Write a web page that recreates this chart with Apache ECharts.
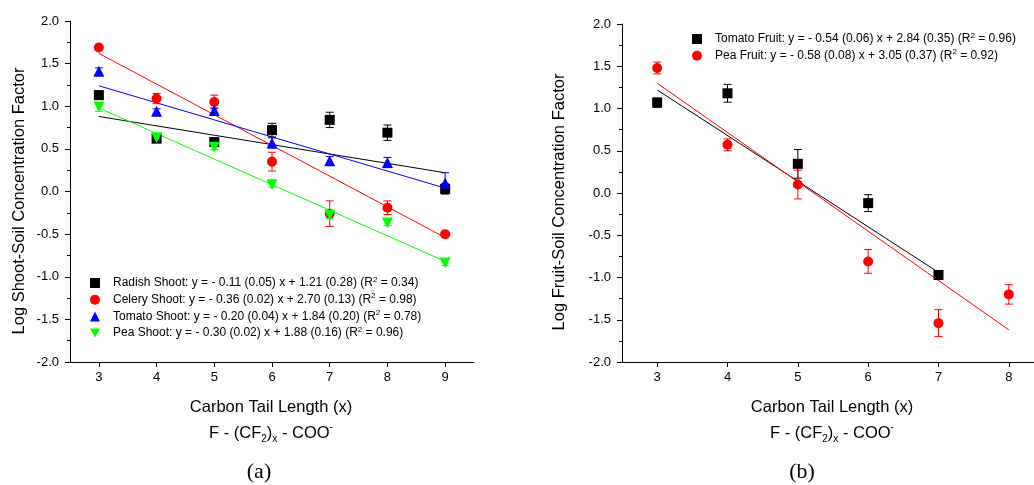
<!DOCTYPE html>
<html>
<head>
<meta charset="utf-8">
<script src="https://cdn.jsdelivr.net/npm/echarts@6/dist/echarts.min.js"></script>
<style>html,body{margin:0;padding:0;background:#fff}#c{width:1034px;height:485px}</style>
</head>
<body>
<div id="c"></div>
<script>
// ---------- data: panel (a) shoots ----------
const xShoot = [3, 4, 5, 6, 7, 8, 9];
const radish = [1.13, 0.62, 0.58, 0.72, 0.84, 0.69, 0.03];
const radishErr = [0.05, 0.03, 0.03, 0.08, 0.09, 0.09, 0.06];
const celery = [1.69, 1.09, 1.05, 0.35, -0.26, -0.19, -0.50];
const celeryErr = [0.03, 0.06, 0.08, 0.11, 0.15, 0.08, 0.02];
const tomatoS = [1.41, 0.94, 0.95, 0.57, 0.36, 0.34, 0.10];
const tomatoSErr = [0.04, 0.03, 0.03, 0.06, 0.05, 0.06, 0.12];
const peaS = [0.99, 0.63, 0.52, 0.08, -0.28, -0.37, -0.84];
const peaSErr = [0.05, 0.03, 0.03, 0.03, 0.04, 0.03, 0.03];
const fitRadish = [[3, 0.88], [9, 0.22]];
const fitCelery = [[3, 1.62], [9, -0.54]];
const fitTomatoS = [[3, 1.24], [9, 0.04]];
const fitPeaS = [[3, 0.98], [9, -0.82]];
const namesShoot = ['Radish Shoot', 'Celery Shoot', 'Tomato Shoot', 'Pea Shoot'];
const eqShoot = ['y = - 0.11 (0.05) x + 1.21 (0.28)', 'y = - 0.36 (0.02) x + 2.70 (0.13)',
                 'y = - 0.20 (0.04) x + 1.84 (0.20)', 'y = - 0.30 (0.02) x + 1.88 (0.16)'];
const r2Shoot = ['0.34', '0.98', '0.78', '0.96'];

// ---------- data: panel (b) fruits ----------
const xTomatoF = [3, 4, 5, 6, 7];
const tomatoF = [1.07, 1.18, 0.345, -0.12, -0.97];
const tomatoFErr = [0.055, 0.105, 0.17, 0.10, 0.02];
const xPeaF = [3, 4, 5, 6, 7, 8];
const peaF = [1.48, 0.57, 0.10, -0.81, -1.54, -1.20];
const peaFErr = [0.07, 0.07, 0.17, 0.14, 0.16, 0.115];
const fitTomatoF = [[3, 1.22], [7, -0.94]];
const fitPeaF = [[3, 1.30], [8, -1.62]];
const namesFruit = ['Tomato Fruit', 'Pea Fruit'];
const eqFruit = ['y = - 0.54 (0.06) x + 2.84 (0.35)', 'y = - 0.58 (0.08) x + 3.05 (0.37)'];
const r2Fruit = ['0.96', '0.92'];

// ---------- tick labels ----------
const xTicksA = [3, 4, 5, 6, 7, 8, 9];
const xTicksB = [3, 4, 5, 6, 7, 8];

const FONT = 'Liberation Sans, Arial, sans-serif';
const TRI_DOWN = 'path://M0,0 L10,0 L5,9 Z';

function pts(xs, ys) { return xs.map((x, i) => [x, ys[i]]); }
function errs(xs, ys, es) { return xs.map((x, i) => [x, ys[i] - es[i], ys[i] + es[i]]); }

function errSeries(idx, xs, ys, es, color) {
  return {
    type: 'custom', xAxisIndex: idx, yAxisIndex: idx, silent: true, z: 3,
    encode: { x: 0, y: [1, 2] },
    data: errs(xs, ys, es),
    renderItem: function (params, api) {
      const x = api.value(0);
      const top = api.coord([x, api.value(2)]);
      const bot = api.coord([x, api.value(1)]);
      const w = 4;
      const st = { stroke: color, lineWidth: 1 };
      return { type: 'group', children: [
        { type: 'line', shape: { x1: top[0], y1: top[1], x2: bot[0], y2: bot[1] }, style: st },
        { type: 'line', shape: { x1: top[0] - w, y1: top[1], x2: top[0] + w, y2: top[1] }, style: st },
        { type: 'line', shape: { x1: bot[0] - w, y1: bot[1], x2: bot[0] + w, y2: bot[1] }, style: st }
      ]};
    }
  };
}
function fitSeries(idx, data, color) {
  return { type: 'line', xAxisIndex: idx, yAxisIndex: idx, data: data, symbol: 'none', silent: true,
    lineStyle: { color: color, width: 1 }, z: 2, animation: false };
}
function scatterSeries(idx, name, xs, ys, color, symbol, size) {
  return { type: 'scatter', name: name, xAxisIndex: idx, yAxisIndex: idx, data: pts(xs, ys),
    symbol: symbol, symbolSize: size, itemStyle: { color: color, opacity: 1 }, z: 4 };
}

const axisCommon = {
  axisLine: { show: true, onZero: false, lineStyle: { color: '#000', width: 1 } },
  axisTick: { show: true, inside: false, length: 5, lineStyle: { color: '#000' } },
  splitLine: { show: false },
  axisLabel: { color: '#000', fontSize: 13, fontFamily: FONT }
};
function xAx(idx, max, ticks) {
  return Object.assign({}, axisCommon, {
    type: 'value', gridIndex: idx, min: 2.5, max: max,
    axisTick: Object.assign({}, axisCommon.axisTick, { customValues: ticks }),
    axisLabel: Object.assign({}, axisCommon.axisLabel, { customValues: ticks, margin: 9 })
  });
}
function yAx(idx) {
  return Object.assign({}, axisCommon, {
    type: 'value', gridIndex: idx, min: -2, max: 2, interval: 0.5,
    minorTick: { show: true, splitNumber: 2, length: 3, lineStyle: { color: '#000' } },
    axisLabel: Object.assign({}, axisCommon.axisLabel, { margin: 11, formatter: v => v.toFixed(1) })
  });
}

const legendRich = {
  sup: { fontSize: 8, lineHeight: 8, verticalAlign: 'top', fontFamily: FONT, color: '#000' }
};
function legendFmt(names, eqs, r2s) {
  return function (name) {
    const i = names.indexOf(name);
    return name + ': ' + eqs[i] + ' (R{sup|2} = ' + r2s[i] + ')';
  };
}

const option = {
  animation: false,
  backgroundColor: '#fff',
  grid: [
    { left: 70, top: 21, width: 404, height: 341, containLabel: false, outerBoundsMode: 'none' },
    { left: 622, top: 24, width: 422, height: 338, containLabel: false, outerBoundsMode: 'none' }
  ],
  xAxis: [xAx(0, 9.5, xTicksA), xAx(1, 8.5, xTicksB)],
  yAxis: [yAx(0), yAx(1)],
  legend: [
    { show: true, orient: 'vertical', left: 90, top: 275.5, padding: 0, itemGap: 1.7,
      itemWidth: 10, itemHeight: 10, selectedMode: false,
      data: [
        { name: namesShoot[0], icon: 'rect' },
        { name: namesShoot[1], icon: 'circle' },
        { name: namesShoot[2], icon: 'triangle' },
        { name: namesShoot[3], icon: TRI_DOWN }
      ],
      formatter: legendFmt(namesShoot, eqShoot, r2Shoot),
      textStyle: { fontSize: 12, lineHeight: 15, fontFamily: FONT, color: '#000', padding: [0, 0, 0, 8], rich: legendRich }
    },
    { show: true, orient: 'vertical', left: 692, top: 31.5, padding: 0, itemGap: 1.7,
      itemWidth: 10, itemHeight: 10, selectedMode: false,
      data: [
        { name: namesFruit[0], icon: 'rect' },
        { name: namesFruit[1], icon: 'circle' }
      ],
      formatter: legendFmt(namesFruit, eqFruit, r2Fruit),
      textStyle: { fontSize: 12, lineHeight: 15, fontFamily: FONT, color: '#000', padding: [0, 0, 0, 8], rich: legendRich }
    }
  ],
  series: [
    fitSeries(0, fitRadish, '#000'),
    fitSeries(0, fitCelery, '#ff0000'),
    fitSeries(0, fitTomatoS, '#0000ff'),
    fitSeries(0, fitPeaS, '#00ff00'),
    errSeries(0, xShoot, radish, radishErr, '#000'),
    errSeries(0, xShoot, celery, celeryErr, '#ff0000'),
    errSeries(0, xShoot, tomatoS, tomatoSErr, '#0000ff'),
    errSeries(0, xShoot, peaS, peaSErr, '#00ff00'),
    scatterSeries(0, namesShoot[0], xShoot, radish, '#000', 'rect', 10),
    scatterSeries(0, namesShoot[1], xShoot, celery, '#ff0000', 'circle', 10),
    scatterSeries(0, namesShoot[2], xShoot, tomatoS, '#0000ff', 'triangle', 11),
    scatterSeries(0, namesShoot[3], xShoot, peaS, '#00ff00', TRI_DOWN, 11),

    fitSeries(1, fitTomatoF, '#000'),
    fitSeries(1, fitPeaF, '#ff0000'),
    errSeries(1, xTomatoF, tomatoF, tomatoFErr, '#000'),
    errSeries(1, xPeaF, peaF, peaFErr, '#ff0000'),
    scatterSeries(1, namesFruit[0], xTomatoF, tomatoF, '#000', 'rect', 10),
    scatterSeries(1, namesFruit[1], xPeaF, peaF, '#ff0000', 'circle', 10)
  ],
  graphic: [
    { type: 'text', x: 19, y: 201, rotation: Math.PI / 2,
      style: { text: 'Log Shoot-Soil Concentration Factor', fontSize: 16.5, fontFamily: FONT, fill: '#000', align: 'center', verticalAlign: 'middle' } },
    { type: 'text', x: 559, y: 202, rotation: Math.PI / 2,
      style: { text: 'Log Fruit-Soil Concentration Factor', fontSize: 16.5, fontFamily: FONT, fill: '#000', align: 'center', verticalAlign: 'middle' } },
    { type: 'text', x: 271, y: 407,
      style: { text: 'Carbon Tail Length (x)', fontSize: 16.5, fontFamily: FONT, fill: '#000', align: 'center', verticalAlign: 'middle' } },
    { type: 'text', x: 832, y: 407,
      style: { text: 'Carbon Tail Length (x)', fontSize: 16.5, fontFamily: FONT, fill: '#000', align: 'center', verticalAlign: 'middle' } },
    { type: 'text', x: 271, y: 433,
      style: { text: 'F - (CF{sub|2}){sub|x} - COO{sup|-}', fontSize: 16.5, lineHeight: 22, fontFamily: FONT, fill: '#000', align: 'center', verticalAlign: 'middle',
        rich: { sub: { fontSize: 10, lineHeight: 10, verticalAlign: 'bottom', fontFamily: FONT, fill: '#000' },
                sup: { fontSize: 10, lineHeight: 10, verticalAlign: 'top', fontFamily: FONT, fill: '#000' } } } },
    { type: 'text', x: 832, y: 433,
      style: { text: 'F - (CF{sub|2}){sub|x} - COO{sup|-}', fontSize: 16.5, lineHeight: 22, fontFamily: FONT, fill: '#000', align: 'center', verticalAlign: 'middle',
        rich: { sub: { fontSize: 10, lineHeight: 10, verticalAlign: 'bottom', fontFamily: FONT, fill: '#000' },
                sup: { fontSize: 10, lineHeight: 10, verticalAlign: 'top', fontFamily: FONT, fill: '#000' } } } },
    { type: 'text', x: 259, y: 472,
      style: { text: '(a)', fontSize: 22, fontFamily: 'Liberation Serif, Times New Roman, serif', fill: '#000', align: 'center', verticalAlign: 'middle' } },
    { type: 'text', x: 802, y: 472,
      style: { text: '(b)', fontSize: 22, fontFamily: 'Liberation Serif, Times New Roman, serif', fill: '#000', align: 'center', verticalAlign: 'middle' } }
  ]
};

const chart = echarts.init(document.getElementById('c'), null, { renderer: 'canvas' });
chart.setOption(option);
</script>
</body>
</html>
